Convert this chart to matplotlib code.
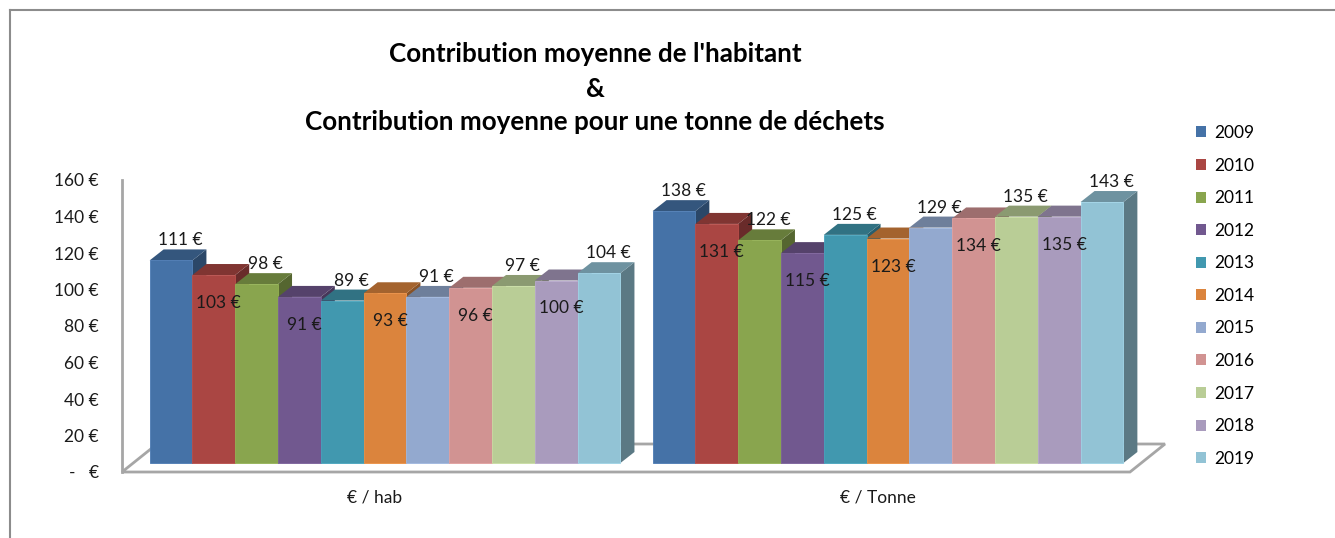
import matplotlib
matplotlib.use("Agg")
import matplotlib.pyplot as plt
from matplotlib.patches import Polygon, Patch
from matplotlib.lines import Line2D
from matplotlib.colors import to_rgb

# ---------------- data ----------------
years = ["2009", "2010", "2011", "2012", "2013", "2014",
         "2015", "2016", "2017", "2018", "2019"]
categories = ["€ / hab", "€ / Tonne"]
per_hab = [111, 103, 98, 91, 89, 93, 91, 96, 97, 100, 104]
per_tonne = [138, 131, 122, 115, 125, 123, 129, 134, 135, 135, 143]
series_by_category = [per_hab, per_tonne]
yticks = [0, 20, 40, 60, 80, 100, 120, 140, 160]
ytick_labels = ["-   €", "20 €", "40 €", "60 €", "80 €", "100 €", "120 €", "140 €", "160 €"]
title_lines = ["Contribution moyenne de l'habitant", "&",
               "Contribution moyenne pour une tonne de déchets"]

colors = ["#4572A7", "#AA4643", "#89A54E", "#71588F", "#4198AF", "#DB843D",
          "#93A9CF", "#D19392", "#B9CD96", "#A99BBD", "#92C3D5"]

# ---------------- layout ----------------
W, H = 1335, 538
FONT = ["Lato", "DejaVu Sans"]
plt.rcParams["font.family"] = FONT

fig = plt.figure(figsize=(W / 100, H / 100), dpi=100)
fig.patch.set_facecolor("white")

ax_left_px, ax_right_px = 122, 1130
ax_bottom_px, ax_top_px = 472, 180
ax = fig.add_axes([ax_left_px / W, (H - ax_bottom_px) / H,
                   (ax_right_px - ax_left_px) / W, (ax_bottom_px - ax_top_px) / H])

margin = 0.4
gap = 0.75
n = len(years)
xmax = margin * 2 + n * 2 + gap
ax.set_xlim(0, xmax)
ax.set_ylim(0, 160)

px_x = (ax_right_px - ax_left_px) / xmax     # pixels per x unit
px_y = (ax_bottom_px - ax_top_px) / 160.0    # pixels per euro


def off(dx_px, dy_px):
    return dx_px / px_x, dy_px / px_y


front_dx, front_dy = off(10.5, 9)     # bars' front plane depth
back_dx, back_dy = off(24.5, 20)      # bars' back plane depth
floor_dx, floor_dy = off(35, 28)      # floor depth


def shade(c, f):
    r, g, b = to_rgb(c)
    return (min(r * f, 1), min(g * f, 1), min(b * f, 1))


# floor
floor = Polygon([(0, 0), (xmax, 0), (xmax + floor_dx, floor_dy), (floor_dx, floor_dy)],
                closed=True, facecolor="white", edgecolor="#A6A6A6", linewidth=2,
                clip_on=False, zorder=1)
ax.add_patch(floor)

# bars
z = 2
for g, values in enumerate(series_by_category):
    start = margin + g * (n + gap)
    for i, v in enumerate(values):
        x0 = start + i
        x1 = x0 + 1
        fx0, fx1 = x0 + front_dx, x1 + front_dx
        by, ty = front_dy, front_dy + v
        side = Polygon([(fx1, by), (x1 + back_dx, back_dy), (x1 + back_dx, back_dy + v), (fx1, ty)],
                       closed=True, facecolor=shade(colors[i], 0.62), edgecolor="none",
                       clip_on=False, zorder=z)
        top = Polygon([(fx0, ty), (fx1, ty), (x1 + back_dx, back_dy + v), (x0 + back_dx, back_dy + v)],
                      closed=True, facecolor=shade(colors[i], 0.75), edgecolor="none",
                      clip_on=False, zorder=z)
        front = Polygon([(fx0, by), (fx1, by), (fx1, ty), (fx0, ty)],
                        closed=True, facecolor=colors[i], edgecolor=shade(colors[i], 1.08),
                        linewidth=0.6, clip_on=False, zorder=z + 0.5)
        ax.add_patch(side)
        ax.add_patch(top)
        ax.add_patch(front)
        z += 1

# data labels (alternating above / inside)
for g, values in enumerate(series_by_category):
    start = margin + g * (n + gap)
    for i, v in enumerate(values):
        cx = start + i + 0.5 + front_dx
        ty = front_dy + v
        if i % 2 == 0:
            dx_pt, dy_pt = 9 / 1.389, 20 / 1.389
        else:
            dx_pt, dy_pt = 5 / 1.389, -28 / 1.389
        ax.annotate(f"{v} €", xy=(cx, ty), xytext=(dx_pt, dy_pt), textcoords="offset points",
                    ha="center", va="center", fontsize=12.5, color="#1a1a1a",
                    zorder=200, annotation_clip=False)

# axes styling
for s in ["top", "right", "bottom"]:
    ax.spines[s].set_visible(False)
ax.spines["left"].set_color("#A6A6A6")
ax.spines["left"].set_linewidth(2)
ax.spines["left"].set_zorder(0.5)
ax.set_yticks(yticks, ytick_labels)
ax.tick_params(axis="y", length=0, pad=16.5, labelsize=12.5, labelcolor="#1a1a1a")
centers = [margin + g * (n + gap) + n / 2 for g in range(len(categories))]
ax.set_xticks(centers, categories)
ax.tick_params(axis="x", length=0, pad=12.5, labelsize=12.5, labelcolor="#1a1a1a")
ax.patch.set_visible(False)

# title
title_y = [54, 89, 122]
for line, yp in zip(title_lines, title_y):
    fig.text(595 / W, 1 - yp / H, line, ha="center", va="center",
             fontsize=18.7, fontweight="bold", color="black")

# legend
handles = [Patch(facecolor=c, edgecolor="none") for c in colors]
fig.legend(handles, years, loc="upper left", bbox_to_anchor=(1196 / W, 1 - 125 / H),
           frameon=False, fontsize=12.5, handlelength=0.6, handleheight=0.6,
           handletextpad=0.45, labelspacing=0.955, borderaxespad=0, borderpad=0)

# chart frame (left and top borders)
fig.add_artist(Line2D([10 / W, 10 / W], [0, 1 - 10 / H], color="#8C8C8C", linewidth=1.5))
fig.add_artist(Line2D([10 / W, 1], [1 - 10 / H, 1 - 10 / H], color="#8C8C8C", linewidth=1.5))

fig.savefig("out.png", dpi=100)
